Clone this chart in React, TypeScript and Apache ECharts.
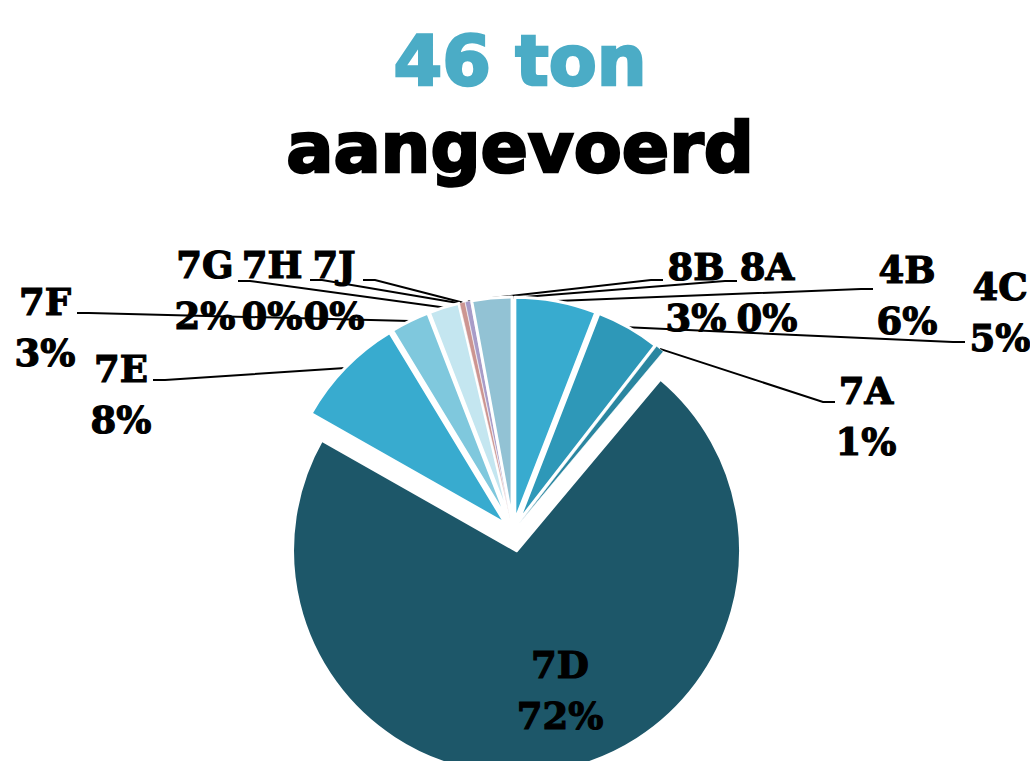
import React, { useEffect, useRef } from 'react';
import * as echarts from 'echarts';

// ---- data (tons landed per area) ----
const categories = ['4B', '4C', '7A', '7D', '7E', '7F', '7G', '7H', '7J', '8A', '8B'];
const tons = [2.71, 2.12, 0.28, 33.17, 3.73, 1.29, 1.01, 0, 0.18, 0.18, 1.33];
const sliceColors = ['#38abcf', '#2e98b8', '#2a86a0', '#1d5769', '#38abcf', '#7fc8dd', '#c4e6f0', '#b7b3d6', '#cc9591', '#a89cc8', '#92c2d4'];
const titleLines = ['46 ton', 'aangevoerd'];

// ---- label layout (annotation placement only) ----
const labelPos: number[][] = [
  [907, 295], [1000, 312], [866, 416], [560, 690], [121, 394], [45, 327],
  [205, 290], [272, 290], [334, 290], [767, 292], [696, 292],
];
const lineEnds: (number[] | null)[] = [
  [873, 289], [965, 342], [835, 402], null, [153, 380], [77, 313],
  [238, 281], [310, 280], [363, 280], [737, 281], [663, 280],
];

const CENTER = [513, 531];
const RADIUS = 224;
const EXPLODE = 10;
const EXPLODE_MAIN = 20;
const MAIN_INDEX = 3;

export default function App() {
  const ref = useRef<HTMLDivElement>(null);
  useEffect(() => {
    if (!ref.current) return;
    const chart = echarts.init(ref.current, null, { renderer: 'svg' });
    const tiny = (i: number) => tons[i] < 0.5;
    const hidden = { color: 'rgba(0,0,0,0)', borderWidth: 0 };

    const baseSeries = {
      type: 'pie',
      center: CENTER,
      radius: RADIUS,
      startAngle: 90,
      clockwise: true,
      avoidLabelOverlap: false,
      emphasis: { disabled: true },
      animation: false,
    };

    const seriesOthers = {
      ...baseSeries,
      selectedMode: 'multiple',
      selectedOffset: EXPLODE,
      label: { show: false },
      labelLine: { show: false },
      data: categories.map((name, i) => {
        const st = i === MAIN_INDEX ? hidden : { color: sliceColors[i], borderColor: '#ffffff', borderWidth: tiny(i) ? 0.5 : 3 };
        return { name, value: tons[i], selected: i !== MAIN_INDEX, itemStyle: st, select: { itemStyle: st } };
      }),
    };

    const seriesMain = {
      ...baseSeries,
      selectedMode: 'multiple',
      selectedOffset: EXPLODE_MAIN,
      label: { show: false },
      labelLine: { show: false },
      data: categories.map((name, i) => {
        const st = i === MAIN_INDEX ? { color: sliceColors[i], borderColor: '#ffffff', borderWidth: 3 } : hidden;
        return { name, value: tons[i], selected: i === MAIN_INDEX, itemStyle: st, select: { itemStyle: st } };
      }),
    };

    const seriesLabels = {
      ...baseSeries,
      silent: true,
      percentPrecision: 0,
      itemStyle: hidden,
      label: {
        show: true,
        position: 'outside',
        formatter: '{b}\n{d}%',
        fontFamily: '"DejaVu Serif"',
        fontWeight: 'bold',
        fontSize: 37,
        lineHeight: 51,
        color: '#000000',
        textBorderColor: '#000000',
        textBorderWidth: 1.2,
        align: 'center',
      },
      labelLine: {
        show: true,
        length: 10,
        length2: 10,
        smooth: false,
        lineStyle: { color: '#000000', width: 2 },
      },
      labelLayout: (params: any) => {
        const i = params.dataIndex;
        const [lx, ly] = labelPos[i];
        const out: any = { x: lx, y: ly, align: 'center', verticalAlign: 'middle' };
        const end = lineEnds[i];
        const pts = params.labelLinePoints;
        if (end && pts && pts.length >= 2) {
          const p0 = pts[0];
          const p1 = pts[1];
          const dx = p1[0] - p0[0];
          const dy = p1[1] - p0[1];
          const len = Math.sqrt(dx * dx + dy * dy) || 1;
          const off = i === MAIN_INDEX ? EXPLODE_MAIN : EXPLODE;
          const start = [p0[0] + (dx / len) * off, p0[1] + (dy / len) * off];
          const bend = [end[0] + (end[0] > CENTER[0] ? -12 : 12), end[1]];
          out.labelLinePoints = [start, bend, end];
        }
        return out;
      },
      data: categories.map((name, i) => ({
        name,
        value: tons[i],
        labelLine: { show: i !== MAIN_INDEX },
      })),
    };

    chart.setOption({
      animation: false,
      backgroundColor: '#ffffff',
      graphic: [
        {
          type: 'text', x: 520, y: 61,
          style: { text: titleLines[0], fontFamily: '"DejaVu Sans"', fontWeight: 'bold', fontSize: 70, fill: '#4bacc6', stroke: '#4bacc6', lineWidth: 2.5, align: 'center', verticalAlign: 'middle' },
        },
        {
          type: 'text', x: 520, y: 148,
          style: { text: titleLines[1], fontFamily: '"DejaVu Sans"', fontWeight: 'bold', fontSize: 70, fill: '#000000', stroke: '#000000', lineWidth: 2.5, align: 'center', verticalAlign: 'middle' },
        },
      ],
      series: [seriesOthers, seriesMain, seriesLabels],
    });
    return () => chart.dispose();
  }, []);
  return (
    <div
      ref={ref}
      style={{ position: 'fixed', left: 0, top: 0, width: 1030, height: 761, background: '#ffffff' }}
    />
  );
}
